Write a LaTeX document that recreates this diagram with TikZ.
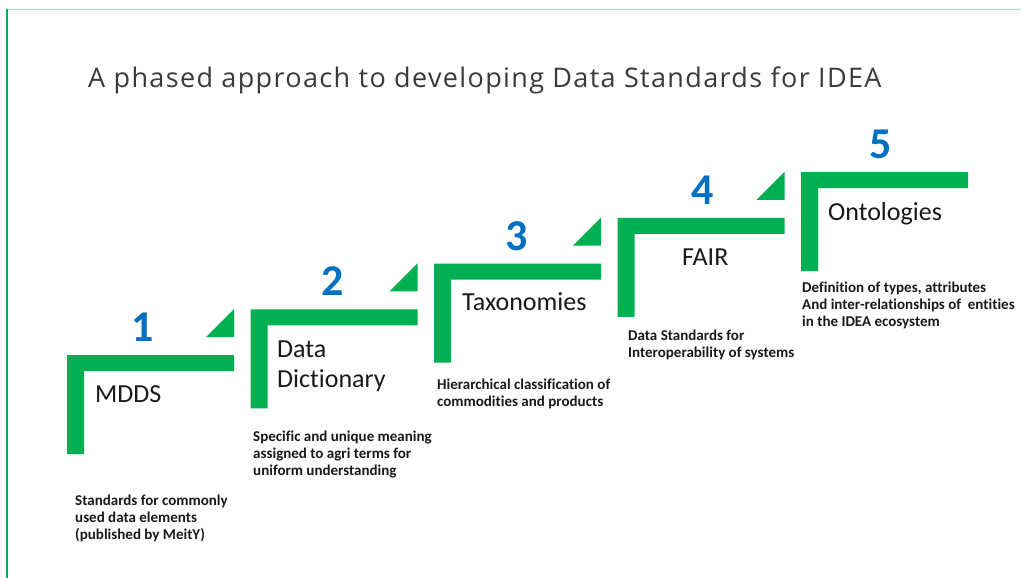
\documentclass[tikz,border=0pt]{standalone}
\usepackage{fontspec}
\setmainfont{Carlito}[Ligatures=NoCommon]
\newfontfamily\titlefont[LetterSpace=5]{Open Sans}
\definecolor{stepgreen}{HTML}{00B050}
\definecolor{numblue}{HTML}{0070C0}
\definecolor{toplinecol}{HTML}{A9E2C2}
\definecolor{titlegray}{HTML}{3A3A3A}
\begin{document}
\begin{tikzpicture}[x=1pt,y=-1pt,
  stepshape/.style={fill=stepgreen, draw=none},
  numlabel/.style={font=\fontsize{44}{44}\selectfont\bfseries, text=numblue, anchor=base, inner sep=0pt},
  steplabel/.style={font=\fontsize{26}{30}\selectfont, anchor=base west, inner sep=0pt, text=black!90, align=left},
  desclabel/.style={font=\fontsize{15}{17}\selectfont\bfseries, anchor=base west, inner sep=0pt, align=left, text=black!90}]
\fill[white] (0,0) rectangle (1021,578);
\useasboundingbox (0,0) rectangle (1021,578);
% frame lines
\draw[toplinecol, line width=1pt] (7,9.5) -- (1021,9.5);
\draw[stepgreen, line width=2pt] (7,9) -- (7,578);
% title
\node[font=\titlefont\fontsize{27}{31}\selectfont, text=titlegray, anchor=base west, inner sep=0pt] (title) at (88,88) {A phased approach to developing Data Standards for IDEA};
% steps
\foreach \i in {0,...,4} {
  \pgfmathsetmacro\X{67+183.5*\i}
  \pgfmathsetmacro\Y{355-45.75*\i}
  \fill[stepshape] (\X,\Y) -- ++(167,0) -- ++(0,16) -- ++(-150,0) -- ++(0,83) -- ++(-17,0) -- cycle;
}
\foreach \i in {0,...,3} {
  \pgfmathsetmacro\X{67+183.5*\i}
  \pgfmathsetmacro\Y{355-45.75*\i}
  \fill[stepshape] (\X+139,\Y-18) -- (\X+167,\Y-18) -- (\X+167,\Y-46) -- cycle;
}
% numbers
\node[numlabel] (n1) at (143,341) {1};
\node[numlabel] (n2) at (333,295) {2};
\node[numlabel] (n3) at (517,250) {3};
\node[numlabel] (n4) at (703,204) {4};
\node[numlabel] (n5) at (881,158) {5};
% step labels (anchor = baseline of last line)
\node[steplabel] (l1) at (95,402) {MDDS};
\node[steplabel] (l2) at (277,387) {Data\\Dictionary};
\node[steplabel] (l3) at (462,310) {Taxonomies};
\node[steplabel] (l4) at (682,265) {FAIR};
\node[steplabel] (l5) at (828,220) {Ontologies};
% descriptions (anchor = baseline of last line)
\node[desclabel] (d1) at (75,539) {Standards for commonly\\used data elements\\(published by MeitY)};
\node[desclabel] (d2) at (253,475) {Specific and unique meaning\\assigned to agri terms for\\uniform understanding};
\node[desclabel] (d3) at (437,406) {Hierarchical classification of\\commodities and products};
\node[desclabel] (d4) at (628,357) {Data Standards for\\Interoperability of systems};
\node[desclabel] (d5) at (802,326) {Definition of types, attributes\\And inter-relationships of~ entities\\in the IDEA ecosystem};
\end{tikzpicture}
\end{document}
